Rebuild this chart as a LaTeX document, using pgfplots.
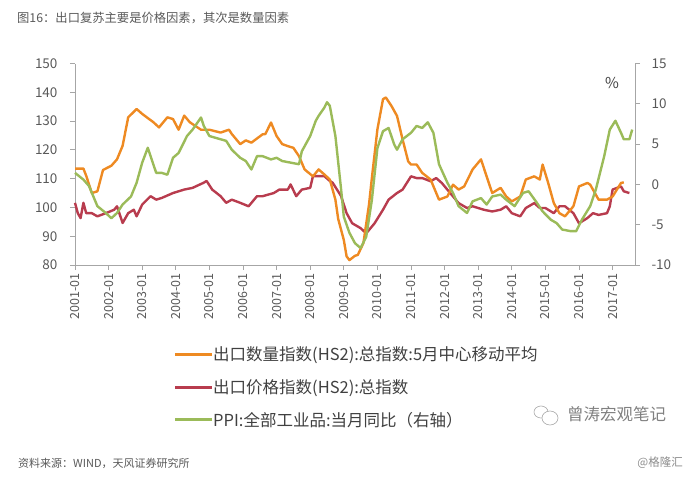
\documentclass[border=0pt]{standalone}
\usepackage{fontspec}
\setmainfont{Noto Sans CJK SC}
\usepackage{pgfplots}
\pgfplotsset{compat=1.18}
\definecolor{cOr}{HTML}{EE8A22}
\definecolor{cRd}{HTML}{B83C4E}
\definecolor{cGr}{HTML}{9BBB59}
\definecolor{cAx}{HTML}{A6A6A6}
\definecolor{cTk}{HTML}{595959}
\definecolor{cTx}{HTML}{404040}
\pgfplotsset{
  common/.style={
    at={(75bp,216bp)}, anchor=south west, scale only axis,
    width=560bp, height=201.5bp, xmin=0, xmax=200,
    tick align=outside, major tick length=5bp,
    axis line style={cAx, line width=0.8bp},
    tick style={cAx, line width=0.8bp},
    /pgf/number format/assume math mode=true,
    ticklabel style={font=\fontsize{13.5bp}{15bp}\selectfont, text=cTk},
    clip=false,
  }
}
\begin{document}
\begin{tikzpicture}
\path[use as bounding box] (0,0) rectangle (687bp,481bp);
\begin{axis}[common,
  ymin=80, ymax=150, ytick={80,90,...,150},
  axis y line*=left, axis x line*=bottom,
  yticklabel style={xshift=-9bp},
  xtick={0,12,...,192},
  xticklabels={2001-01,2002-01,2003-01,2004-01,2005-01,2006-01,2007-01,2008-01,2009-01,2010-01,2011-01,2012-01,2013-01,2014-01,2015-01,2016-01,2017-01},
  xticklabel style={rotate=90, anchor=east, font=\fontsize{12.5bp}{14bp}\selectfont},
]
\addplot[cRd, line width=2.4bp, line join=round] coordinates {
(0,101.6)(1,98)(2,96.3)(3,101.6)(4,98)(6,98)(8,96.9)(11,98)(14,99.2)(15,100.4)(17,94.6)(19,98)(21,99.2)(22,96.9)(24,101)(27,103.9)(29,102.7)(31,103.3)(35,105)(39,106.2)(42,106.8)(46,108.6)(47,109.2)(49,106.2)(52,103.9)(54,101.6)(56,102.7)(59,101.6)(62,100.4)(65,103.9)(67,103.9)(71,105)(73,106.2)(76,106.2)(77,108)(79,103.9)(81,106.2)(84,106.8)(85,110.9)(89,110.9)(91,109.2)(92,108.6)(95,104)(97,98)(99,94.5)(102,92.8)(104,91)(107,94.5)(110,99.2)(112,102.7)(115,105)(117,106.2)(120,110.8)(122,110.2)(124,110.2)(127,109.1)(129,110.2)(131,108.5)(134,105)(137,101.5)(140,99.8)(142,100.4)(146,99.2)(149,98.6)(152,99.2)(154,100.4)(156,98)(159,96.9)(161,99.8)(164,101.5)(166,99.8)(168,99.8)(171,98)(173,100.4)(175,100.4)(178,98)(180,94.5)(183,96.3)(185,98)(187,97.4)(190,98)(191,100.4)(192,106.2)(195,107.3)(196,105.6)(198,105)
};
\addplot[cOr, line width=2.4bp, line join=round] coordinates {
(0,113.5)(3,113.5)(4,111)(6,105)(8,105.6)(10,113)(13,114.5)(15,116.7)(17,121.4)(19,131.3)(22,134.2)(24,132.5)(28,129.6)(30,127.8)(33,131.3)(35,130.7)(37,127)(39,131.9)(41,129.6)(45,127)(48,127)(52,126)(55,127)(56,125.5)(59,122)(61,123.3)(63,122.5)(67,125.4)(68,125.5)(70,129.5)(72,124.8)(74,122)(76,121.3)(78,120.7)(80,117.8)(82,113.2)(85,110.8)(87,113.2)(89,111.5)(91,109.7)(93,102.7)(94,96)(96,88.7)(97,83)(98,81.7)(100,83.2)(101,83.5)(103,87.6)(105,101)(106,110)(108,127.1)(110,137.6)(111,138.2)(113,135.3)(115,131.8)(117,123.6)(119,116)(120,114.9)(122,114.9)(124,112)(127,109.7)(130,102.7)(133,103.8)(135,107.9)(137,106.2)(139,107.3)(142,113.2)(145,116.7)(147,110.8)(149,105)(152,106.8)(154,103.8)(156,102.1)(159,103.8)(161,109.7)(164,110.8)(166,109.7)(167,114.9)(169,108.5)(171,101.5)(173,98)(175,96.9)(178,100.4)(180,107.3)(183,108.5)(184,107.9)(187,102.7)(190,102.7)(192,103.8)(195,108.5)(196,108.7)
};
\end{axis}
\begin{axis}[common,
  ymin=-10, ymax=15, ytick={-10,-5,...,15},
  axis y line*=right, axis x line=none,
  yticklabel style={xshift=8bp},
]
\addplot[cGr, line width=2.4bp, line join=round] coordinates {
(0,1.43)(3,0.6)(5,-0.2)(8,-2.7)(11,-3.55)(13,-4.2)(15,-3.55)(17,-2.5)(20,-1.5)(22,0.2)(24,2.7)(26,4.55)(27,3.5)(29,1.43)(31,1.43)(33,1.2)(35,3.3)(37,3.9)(40,6.0)(42,6.8)(45,8.3)(46,7.25)(48,6.0)(52,5.6)(54,5.4)(56,4.3)(59,3.3)(61,2.9)(63,1.85)(65,3.5)(67,3.5)(70,3.1)(72,3.3)(74,2.9)(77,2.7)(80,2.5)(81,4.1)(84,6.0)(86,7.9)(87,8.5)(89,9.5)(90,10.2)(91,9.75)(93,6.0)(95,-0.5)(96,-4.0)(98,-6.0)(100,-7.3)(102,-7.9)(104,-6.5)(106,-2)(108,4.5)(110,6.6)(112,7.0)(114,4.96)(115,4.3)(117,5.6)(120,6.4)(122,7.25)(124,7.0)(126,7.7)(128,6.4)(130,2.5)(133,0.2)(135,-1.06)(137,-2.7)(140,-3.55)(142,-2.1)(145,-1.7)(147,-2.5)(149,-1.5)(152,-1.27)(154,-1.9)(157,-2.7)(160,-1.06)(162,-0.85)(165,-2.3)(167,-3.35)(170,-4.4)(172,-4.8)(174,-5.6)(177,-5.8)(179,-5.8)(181,-4.4)(184,-2.7)(186,-0.65)(189,3.5)(191,6.8)(193,7.9)(195,6.4)(196,5.6)(198,5.6)(199,6.8)
};
\end{axis}
% title
\node[anchor=west, text=cTk, font=\fontsize{12.3bp}{14bp}\selectfont, inner sep=0] at (17bp,463bp) {图16：出口复苏主要是价格因素，其次是数量因素};
% percent
\node[text=cTx, font=\fontsize{15bp}{17bp}\selectfont, inner sep=0] at (612bp,398bp) {\%};
% legend
\draw[cOr, line width=3bp] (175bp,126bp) -- (212bp,126bp);
\draw[cRd, line width=3bp] (175bp,93bp) -- (212bp,93bp);
\draw[cGr, line width=3bp] (175bp,61bp) -- (212bp,61bp);
\node[anchor=west, text=cTx, font=\fontsize{16.5bp}{18bp}\selectfont, inner sep=0] at (213bp,126bp) {出口数量指数(HS2):总指数:5月中心移动平均};
\node[anchor=west, text=cTx, font=\fontsize{16.5bp}{18bp}\selectfont, inner sep=0] at (213bp,93bp) {出口价格指数(HS2):总指数};
\node[anchor=west, text=cTx, font=\fontsize{16.5bp}{18bp}\selectfont, inner sep=0] at (213bp,61bp) {PPI:全部工业品:当月同比（右轴）};
% watermark
\draw[black!35, line width=0.6bp] (541bp,69bp) ellipse (7bp and 6bp);
\draw[black!35, line width=0.6bp, fill=white] (550bp,63bp) ellipse (8bp and 7bp);
\node[anchor=west, text=black!50, font=\fontsize{16.5bp}{18bp}\selectfont, inner sep=0] at (567bp,67bp) {曾涛宏观笔记};
% footer
\node[anchor=west, text=cTk, font=\fontsize{11bp}{13bp}\selectfont, inner sep=0] at (18bp,18bp) {资料来源：WIND，天风证券研究所};
\node[anchor=east, text=black!45, font=\fontsize{11.5bp}{13bp}\selectfont, inner sep=0] at (683bp,18bp) {@格隆汇};
\end{tikzpicture}
\end{document}
